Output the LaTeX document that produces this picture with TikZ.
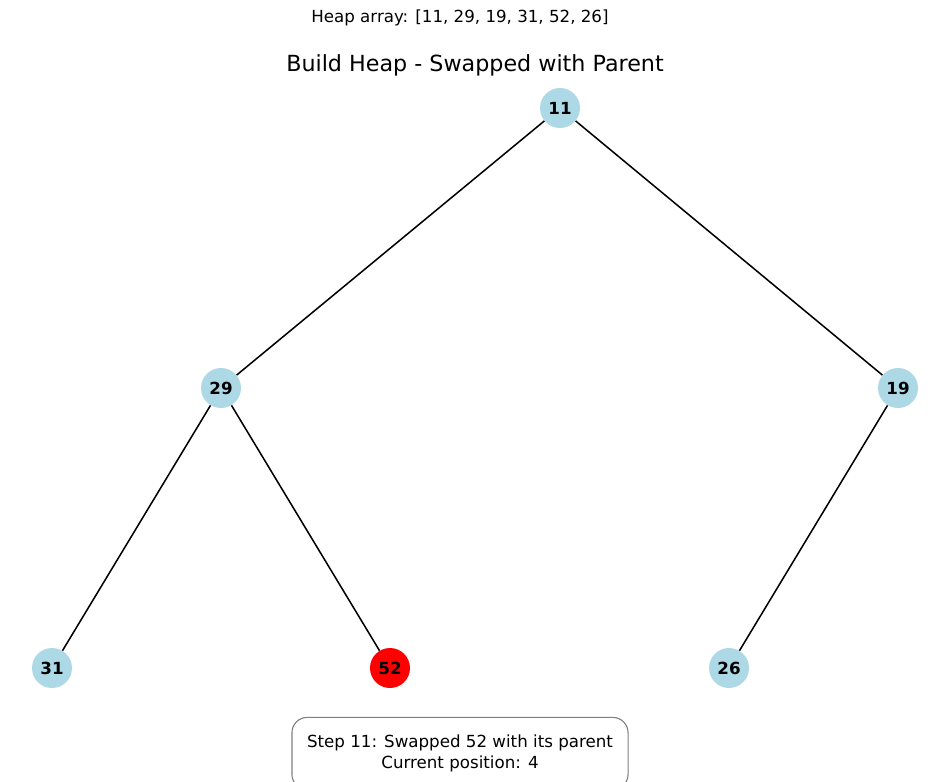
\documentclass[tikz,border=0pt]{standalone}
\usepackage{fontspec}
\setmainfont{DejaVu Sans}
\definecolor{nodeblue}{HTML}{ADD8E6}
\definecolor{nodered}{HTML}{FF0000}
\begin{document}
\begin{tikzpicture}[x=0.72pt,y=-0.72pt,
  heapnode/.style={circle,fill=nodeblue,inner sep=0pt,minimum size=28.8pt,font=\fontsize{12}{14}\selectfont\bfseries},
  hot/.style={fill=nodered},
  edge/.style={draw=black,line width=1.1pt},
  infobox/.style={draw=gray,line width=0.8pt,rounded corners=11pt,fill=white,minimum width=242pt,minimum height=52pt,align=center,font=\fontsize{12}{14.6}\selectfont}]
\useasboundingbox (0,0) rectangle (950,782);
\node[font=\fontsize{12}{14}\selectfont] (sup) at (460,18) {Heap array: [11, 29, 19, 31, 52, 26]};
\node[font=\fontsize{16}{19}\selectfont] (title) at (475,65) {Build Heap - Swapped with Parent};
\node[heapnode] (n11) at (560,108) {11};
\node[heapnode] (n29) at (221,388) {29};
\node[heapnode] (n19) at (898,388) {19};
\node[heapnode] (n31) at (52,668) {31};
\node[heapnode,hot] (n52) at (390,668) {52};
\node[heapnode] (n26) at (729,668) {26};
\draw[edge] (n11) -- (n29);
\draw[edge] (n11) -- (n19);
\draw[edge] (n29) -- (n31);
\draw[edge] (n29) -- (n52);
\draw[edge] (n19) -- (n26);
\node[infobox] (info) at (460,753.5) {Step 11: Swapped 52 with its parent\\Current position: 4};
\end{tikzpicture}
\end{document}
